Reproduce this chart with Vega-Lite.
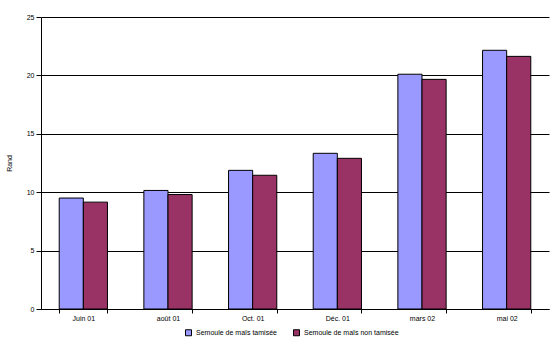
{
  "$schema": "https://vega.github.io/schema/vega-lite/v6.json",
  "autosize": {"type": "none"},
  "width": 508,
  "height": 292,
  "padding": {"left": 41, "top": 17, "right": 10, "bottom": 43},
  "background": "white",
  "data": {"values": [
    {"mois": "Juin 01", "type": "Semoule de maïs tamisée", "valeur": 9.5},
    {"mois": "Juin 01", "type": "Semoule de maïs non tamisée", "valeur": 9.15},
    {"mois": "août 01", "type": "Semoule de maïs tamisée", "valeur": 10.15},
    {"mois": "août 01", "type": "Semoule de maïs non tamisée", "valeur": 9.8},
    {"mois": "Oct. 01", "type": "Semoule de maïs tamisée", "valeur": 11.87},
    {"mois": "Oct. 01", "type": "Semoule de maïs non tamisée", "valeur": 11.45},
    {"mois": "Déc. 01", "type": "Semoule de maïs tamisée", "valeur": 13.33},
    {"mois": "Déc. 01", "type": "Semoule de maïs non tamisée", "valeur": 12.9},
    {"mois": "mars 02", "type": "Semoule de maïs tamisée", "valeur": 20.1},
    {"mois": "mars 02", "type": "Semoule de maïs non tamisée", "valeur": 19.66},
    {"mois": "mai 02", "type": "Semoule de maïs tamisée", "valeur": 22.15},
    {"mois": "mai 02", "type": "Semoule de maïs non tamisée", "valeur": 21.63}
  ]},
  "mark": {"type": "bar", "stroke": "black", "strokeWidth": 1},
  "encoding": {
    "x": {
      "field": "mois", "type": "nominal", "sort": null,
      "scale": {"paddingInner": 0.43, "paddingOuter": 0.215},
      "axis": {"title": null, "labelAngle": 0, "labelFont": "Liberation Sans", "labelFontSize": 7, "labelColor": "black",
               "domainColor": "black", "tickColor": "black", "tickBand": "extent", "tickSize": 4, "labelPadding": 1}
    },
    "xOffset": {"field": "type", "type": "nominal", "sort": ["Semoule de maïs tamisée", "Semoule de maïs non tamisée"], "scale": {"paddingInner": 0}},
    "y": {
      "field": "valeur", "type": "quantitative",
      "scale": {"domain": [0, 25], "nice": false},
      "axis": {"title": "Rand", "values": [0, 5, 10, 15, 20, 25], "titleFont": "Liberation Sans", "titleFontSize": 7, "titleFontWeight": "normal", "titleColor": "black", "titlePadding": 14,
               "labelFont": "Liberation Sans", "labelFontSize": 7, "labelColor": "black", "domainColor": "black", "tickColor": "black", "tickSize": 5,
               "grid": true, "gridColor": "black", "gridOpacity": 1, "gridWidth": 1}
    },
    "color": {
      "field": "type", "type": "nominal",
      "sort": ["Semoule de maïs tamisée", "Semoule de maïs non tamisée"],
      "scale": {"domain": ["Semoule de maïs tamisée", "Semoule de maïs non tamisée"], "range": ["#9999FF", "#993366"]},
      "legend": {"orient": "none", "legendX": 144, "legendY": 312, "direction": "horizontal", "title": null, "symbolType": "square", "symbolSize": 36,
                 "symbolStrokeColor": "black", "symbolStrokeWidth": 1, "labelFont": "Liberation Sans", "labelFontSize": 7, "labelColor": "black",
                 "columnPadding": 14}
    }
  },
  "config": {"view": {"stroke": "black", "strokeWidth": 0}}
}
